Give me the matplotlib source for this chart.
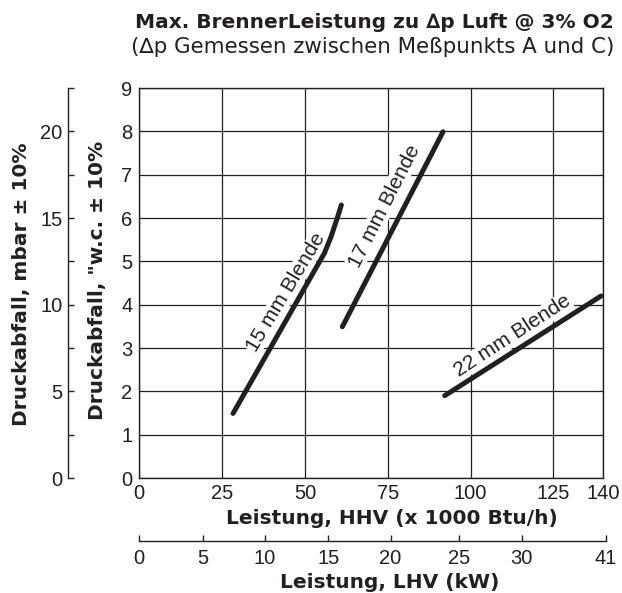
import matplotlib
matplotlib.use("Agg")
import matplotlib.pyplot as plt

plt.rcParams['font.family'] = ['Liberation Sans', 'DejaVu Sans']

# ---- data ----
hhv_ticks = [0, 25, 50, 75, 100, 125, 140]
wc_ticks = [0, 1, 2, 3, 4, 5, 6, 7, 8, 9]
mbar_major = [0, 5, 10, 15, 20]
mbar_minor = [2.5, 7.5, 12.5, 17.5, 22.5]
lhv_labels = ['0', '5', '10', '15', '20', '25', '30', '41']
lhv_pos_hhv = [0, 19.1, 37.9, 56.9, 75.7, 96.3, 115.2, 140.5]

b15_x = [28.3, 55.9, 57.9, 59.9, 61.0]
b15_y = [1.49, 5.19, 5.57, 6.03, 6.30]
b17_x = [61.3, 91.7]
b17_y = [3.49, 7.99]
b22_x = [92.2, 139.4]
b22_y = [1.90, 4.20]

labels = ['15 mm Blende', '17 mm Blende', '22 mm Blende']
label_x = [44.2, 74.0, 112.7]
label_y = [4.28, 6.28, 3.28]
label_rot = [59, 63, 33]

INK = '#231f20'
WIDE = ['DejaVu Sans']
W, H = 622, 593
fig = plt.figure(figsize=(W / 100, H / 100), dpi=100)

def fx(px):
    return px / W

def fy(py):
    return 1 - py / H

L, R, T, B = 139.3, 603, 88, 478
ax = fig.add_axes([fx(L), fy(B), fx(R) - fx(L), fy(T) - fy(B)])
ax.set_xlim(0, 140)
ax.set_ylim(0, 9)
ax.set_xticks(hhv_ticks)
ax.set_yticks(wc_ticks)
ax.tick_params(length=0, labelsize=14.5, colors=INK)
ax.tick_params(axis='y', pad=5)
ax.tick_params(axis='x', pad=4)
for s in ax.spines.values():
    s.set_color(INK)
    s.set_linewidth(1.0)
ax.grid(True, color=INK, linewidth=0.9)
ax.set_axisbelow(True)

for xs, ys in [(b15_x, b15_y), (b17_x, b17_y), (b22_x, b22_y)]:
    ax.plot(xs, ys, color=INK, linewidth=3.6, solid_capstyle='round',
            solid_joinstyle='round', zorder=3)

for t, x, y, r in zip(labels, label_x, label_y, label_rot):
    ax.text(x, y, t, rotation=r, ha='center', va='center', fontsize=15,
            color=INK, rotation_mode='anchor', zorder=2.5,
            bbox=dict(facecolor='white', edgecolor='none', pad=0.5))

# mbar axis
axm = fig.add_axes([fx(68.3), fy(B), 0.001, fy(T) - fy(B)])
axm.set_ylim(0, 22.5)
axm.set_xticks([])
axm.set_yticks(mbar_major)
axm.set_yticks(mbar_minor, minor=True)
for k in ['top', 'right', 'bottom']:
    axm.spines[k].set_visible(False)
axm.spines['left'].set_color(INK)
axm.spines['left'].set_linewidth(1.0)
axm.patch.set_alpha(0)
axm.tick_params(axis='y', which='both', direction='in', length=4.3, width=1.0,
                colors=INK, labelsize=14.5, pad=4)

# LHV axis
axl = fig.add_axes([fx(L), fy(540.7), fx(605.7) - fx(L), 0.001])
axl.set_xlim(0, 140.5)
axl.set_yticks([])
axl.set_xticks(lhv_pos_hhv)
axl.set_xticklabels(lhv_labels)
for k in ['top', 'right', 'left']:
    axl.spines[k].set_visible(False)
axl.spines['bottom'].set_color(INK)
axl.spines['bottom'].set_linewidth(1.0)
axl.patch.set_alpha(0)
axl.tick_params(axis='x', direction='in', length=4.3, width=1.0, colors=INK,
                labelsize=14.5, pad=6)

# titles and labels
fig.text(fx(614), fy(27.7), 'Max. BrennerLeistung zu \u2206p Luft @ 3% O2',
         ha='right', va='baseline', fontsize=14.5, fontweight='bold',
         color=INK, family=WIDE)
fig.text(fx(614), fy(53), '(\u2206p Gemessen zwischen Me\u00dfpunkts A und C)',
         ha='right', va='baseline', fontsize=15.4, color=INK, family=WIDE)
fig.text(fx(391.5), fy(523.5), 'Leistung, HHV (x 1000 Btu/h)', ha='center',
         va='baseline', fontsize=14.5, fontweight='bold', color=INK,
         family=WIDE)
fig.text(fx(390), fy(587.7), 'Leistung, LHV (kW)', ha='center',
         va='baseline', fontsize=14.5, fontweight='bold', color=INK,
         family=WIDE)
fig.text(fx(22), fy(284.5), 'Druckabfall, mbar \u00b1 10%', rotation=90,
         ha='center', va='center', fontsize=14.5, fontweight='bold',
         color=INK, family=WIDE)
fig.text(fx(98), fy(280), 'Druckabfall, "w.c. \u00b1 10%', rotation=90,
         ha='center', va='center', fontsize=14.5, fontweight='bold',
         color=INK, family=WIDE)

fig.savefig('out.png', dpi=100)
